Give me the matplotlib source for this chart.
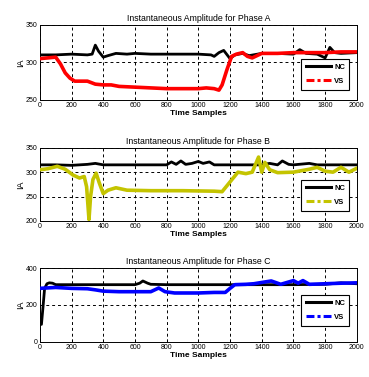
import matplotlib
matplotlib.use("Agg")
import matplotlib.pyplot as plt

# Phase A
a_nc_x = [0, 100, 200, 300, 330, 350, 370, 400, 430, 480, 550, 600, 700, 800, 900, 1000, 1080, 1100, 1130, 1160, 1200, 1230, 1280, 1320, 1400, 1500, 1600, 1640, 1680, 1750, 1800, 1830, 1860, 1900, 2000]
a_nc_y = [310, 310, 311, 310, 311, 323, 315, 307, 309, 312, 311, 312, 311, 311, 311, 311, 310, 308, 313, 316, 305, 310, 312, 309, 312, 312, 311, 317, 312, 311, 306, 320, 313, 312, 313]
a_vs_x = [0, 50, 100, 130, 160, 190, 220, 300, 350, 400, 450, 500, 600, 700, 800, 900, 1000, 1050, 1100, 1130, 1150, 1180, 1210, 1240, 1280, 1310, 1340, 1370, 1400, 1500, 1600, 1700, 1800, 1900, 2000]
a_vs_y = [305, 306, 307, 298, 286, 279, 275, 275, 271, 270, 270, 268, 267, 266, 265, 265, 265, 266, 265, 263, 270, 290, 308, 311, 313, 308, 306, 309, 312, 312, 313, 313, 313, 314, 314]

# Phase B
b_nc_x = [0, 100, 200, 300, 350, 400, 500, 600, 700, 800, 830, 860, 890, 920, 960, 1000, 1030, 1070, 1100, 1150, 1200, 1300, 1400, 1450, 1500, 1530, 1570, 1600, 1700, 1750, 1800, 1900, 2000]
b_nc_y = [315, 315, 314, 316, 318, 315, 315, 315, 315, 315, 321, 316, 323, 316, 318, 322, 318, 321, 315, 315, 315, 315, 315, 318, 315, 323, 316, 315, 318, 315, 315, 315, 315]
b_vs_x = [0, 50, 110, 160, 210, 250, 280, 295, 310, 320, 335, 355, 375, 400, 430, 480, 550, 700, 900, 1100, 1150, 1200, 1250, 1300, 1340, 1380, 1400, 1420, 1450, 1500, 1600, 1700, 1750, 1800, 1850, 1900, 1950, 2000]
b_vs_y = [305, 307, 312, 306, 294, 288, 291, 270, 203, 250, 285, 298, 278, 256, 263, 268, 263, 262, 262, 261, 260, 280, 300, 297, 300, 331, 300, 320, 305, 299, 300, 306, 310, 302, 300, 310, 300, 308]

# Phase C
c_nc_x = [0, 10, 20, 30, 45, 60, 80, 100, 200, 400, 600, 630, 650, 680, 700, 800, 1000, 1200, 1400, 1600, 1800, 1900, 2000]
c_nc_y = [100, 95, 190, 290, 315, 320, 318, 310, 310, 310, 310, 318, 330, 318, 312, 310, 310, 310, 310, 310, 312, 320, 315]
c_vs_x = [0, 100, 200, 300, 350, 400, 500, 600, 700, 750, 790, 850, 1000, 1100, 1170, 1200, 1230, 1300, 1350, 1400, 1460, 1520, 1600, 1630, 1660, 1700, 1800, 1900, 2000]
c_vs_y = [290, 295, 290, 288, 282, 275, 272, 272, 272, 292, 272, 265, 265, 268, 268, 290, 310, 312, 315, 322, 330, 312, 332, 318, 332, 312, 315, 318, 320]

xticks = list(range(0, 2001, 200))

plt.rcParams['font.family'] = ['Liberation Sans', 'DejaVu Sans']

fig = plt.figure(figsize=(3.69, 3.77), dpi=100)

panels = [
    ("A", [0.108, 0.735, 0.859, 0.199], a_nc_x, a_nc_y, a_vs_x, a_vs_y, "#ff0000", (250, 350), [250, 300, 350], (0.984, 0.107)),
    ("B", [0.108, 0.414, 0.859, 0.194], b_nc_x, b_nc_y, b_vs_x, b_vs_y, "#c4c400", (200, 350), [200, 250, 300, 350], (0.984, 0.11)),
    ("C", [0.108, 0.093, 0.859, 0.196], c_nc_x, c_nc_y, c_vs_x, c_vs_y, "#0000ff", (0, 400), [0, 200, 400], (0.984, 0.19)),
]

for name, pos, nx, ny, vx, vy, col, ylim, yt, anchor in panels:
    ax = fig.add_axes(pos)
    ax.plot(nx, ny, color='black', lw=2.0, label='NC', zorder=3)
    ax.plot(vx, vy, color=col, lw=2.6, label='VS', zorder=3)
    ax.set_xlim(0, 2000)
    ax.set_ylim(*ylim)
    ax.set_xticks(xticks)
    ax.set_yticks(yt)
    ax.tick_params(labelsize=5, length=2, width=0.6, direction='in', pad=1.5)
    ax.grid(True, color='black', linestyle=(0, (3, 3)), linewidth=0.7)
    for s in ax.spines.values():
        s.set_linewidth(0.7)
    ax.set_title("Instantaneous Amplitude for Phase " + name, fontsize=6.3, pad=3)
    ax.set_xlabel("Time Samples", fontsize=6, fontweight='bold', labelpad=1)
    ax.set_ylabel("IA", fontsize=6.5, labelpad=1)
    leg = ax.legend(loc='lower right', bbox_to_anchor=anchor, fancybox=False,
                    edgecolor='black', framealpha=1, handlelength=3.3, borderpad=0.6,
                    labelspacing=0.9, handletextpad=0.4, borderaxespad=0.3,
                    prop={'weight': 'bold', 'size': 5.5})
    leg.get_frame().set_linewidth(0.8)
    leg.get_lines()[0].set_linewidth(2.2)
    leg.get_lines()[1].set_linewidth(2.2)
    leg.get_lines()[1].set_linestyle((0, (2.6, 1.0, 1.0, 1.0)))

fig.savefig("out.png", dpi=100)
